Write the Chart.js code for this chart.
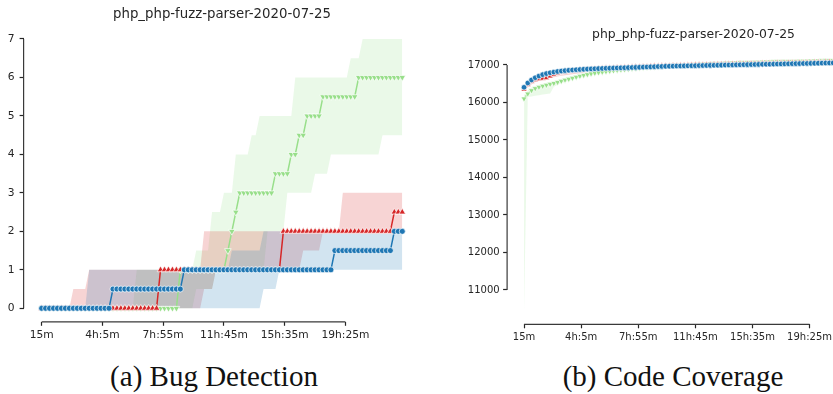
<!DOCTYPE html>
<html>
<head>
  <meta charset="utf-8">
  <title>php_php-fuzz-parser-2020-07-25</title>
  <script src="https://cdn.jsdelivr.net/npm/chart.js@4.4.0/dist/chart.umd.min.js"></script>
  <style>
    html, body {
      margin: 0;
      padding: 0;
      width: 833px;
      height: 394px;
      overflow: hidden;
      background: #fff;
    }
    #bugs { position: absolute; left: 0; top: 0; }
    #cov { position: absolute; left: 420px; top: 0; }
    .caption {
      position: absolute;
      top: 362px;
      font-family: 'Liberation Serif', serif;
      font-size: 29px;
      line-height: 29px;
      color: #111;
      white-space: nowrap;
      transform: translateX(-50%);
    }
  </style>
</head>
<body>
  <canvas id="bugs" width="425" height="345"></canvas>
  <canvas id="cov" width="470" height="345"></canvas>
  <div class="caption" style="left: 214px;">(a) Bug Detection</div>
  <div class="caption" style="left: 673px;">(b) Code Coverage</div>
  <script>
    var title = 'php_php-fuzz-parser-2020-07-25';

    // time axis (minutes since start, one sample every 15 min)
    var minutes = [15, 30, 45, 60, 75, 90, 105, 120, 135, 150,
      165, 180, 195, 210, 225, 240, 255, 270, 285, 300,
      315, 330, 345, 360, 375, 390, 405, 420, 435, 450,
      465, 480, 495, 510, 525, 540, 555, 570, 585, 600,
      615, 630, 645, 660, 675, 690, 705, 720, 735, 750,
      765, 780, 795, 810, 825, 840, 855, 870, 885, 900,
      915, 930, 945, 960, 975, 990, 1005, 1020, 1035, 1050,
      1065, 1080, 1095, 1110, 1125, 1140, 1155, 1170, 1185, 1200,
      1215, 1230, 1245, 1260, 1275, 1290, 1305, 1320, 1335, 1350,
      1365, 1380];
    var tickMinutes = [15, 245, 475, 705, 935, 1165];
    var tickLabels = ['15m', '4h:5m', '7h:55m', '11h:45m', '15h:35m', '19h:25m'];

    // (a) bugs found: mean and band per fuzzer
    var bugBlue = [0, 0, 0, 0, 0, 0, 0, 0, 0, 0,
      0, 0, 0, 0, 0, 0, 0, 0, 0.5, 0.5,
      0.5, 0.5, 0.5, 0.5, 0.5, 0.5, 0.5, 0.5, 0.5, 0.5,
      0.5, 0.5, 0.5, 0.5, 0.5, 0.5, 1, 1, 1, 1,
      1, 1, 1, 1, 1, 1, 1, 1, 1, 1,
      1, 1, 1, 1, 1, 1, 1, 1, 1, 1,
      1, 1, 1, 1, 1, 1, 1, 1, 1, 1,
      1, 1, 1, 1, 1.5, 1.5, 1.5, 1.5, 1.5, 1.5,
      1.5, 1.5, 1.5, 1.5, 1.5, 1.5, 1.5, 1.5, 1.5, 2,
      2, 2];
    var bugBlueLo = [0, 0, 0, 0, 0, 0, 0, 0, 0, 0,
      0, 0, 0, 0, 0, 0, 0, 0, 0, 0,
      0, 0, 0, 0, 0, 0, 0, 0, 0, 0,
      0, 0, 0, 0, 0, 0, 0, 0, 0, 0,
      0, 0, 0, 0, 0, 0, 0, 0, 0, 0,
      0, 0, 0, 0, 0, 0, 0.5, 0.5, 0.5, 0.5,
      1, 1, 1, 1, 1, 1, 1, 1, 1, 1,
      1, 1, 1, 1, 1, 1, 1, 1, 1, 1,
      1, 1, 1, 1, 1, 1, 1, 1, 1, 1,
      1, 1];
    var bugBlueHi = [0, 0, 0, 0, 0, 0, 0, 0, 0, 0,
      0, 0, 1, 1, 1, 1, 1, 1, 1, 1,
      1, 1, 1, 1, 1, 1, 1, 1, 1, 1,
      1, 1, 1, 1, 1, 1, 1, 1, 1, 1,
      1, 1, 1, 1, 1, 1, 1, 1, 1.5, 1.5,
      1.5, 1.5, 1.5, 1.5, 1.5, 1.5, 2, 2, 2, 2,
      2, 2, 2, 2, 2, 2, 2, 2, 2, 2,
      2, 2, 2, 2, 2, 2, 2, 2, 2, 2,
      2, 2, 2, 2, 2, 2, 2, 2, 2, 2,
      2, 2];

    var bugRed = [0, 0, 0, 0, 0, 0, 0, 0, 0, 0,
      0, 0, 0, 0, 0, 0, 0, 0, 0, 0,
      0, 0, 0, 0, 0, 0, 0, 0, 0, 0,
      1, 1, 1, 1, 1, 1, 1, 1, 1, 1,
      1, 1, 1, 1, 1, 1, 1, 1, 1, 1,
      1, 1, 1, 1, 1, 1, 1, 1, 1, 1,
      1, 2, 2, 2, 2, 2, 2, 2, 2, 2,
      2, 2, 2, 2, 2, 2, 2, 2, 2, 2,
      2, 2, 2, 2, 2, 2, 2, 2, 2, 2.5,
      2.5, 2.5];
    var bugRedLo = [0, 0, 0, 0, 0, 0, 0, 0, 0, 0,
      0, 0, 0, 0, 0, 0, 0, 0, 0, 0,
      0, 0, 0, 0, 0, 0, 0, 0, 0, 0,
      0, 0, 0, 0, 0, 0, 0, 0, 0, 0,
      0, 0.5, 0.5, 0.5, 1, 1, 1, 1, 1, 1,
      1, 1, 1, 1, 1, 1, 1, 1, 1, 1,
      1, 1, 1, 1, 1, 1, 1.5, 1.5, 1.5, 1.5,
      1.5, 2, 2, 2, 2, 2, 2, 2, 2, 2,
      2, 2, 2, 2, 2, 2, 2, 2, 2, 2,
      2, 2];
    var bugRedHi = [0, 0, 0, 0, 0, 0, 0, 0, 0.5, 0.5,
      0.5, 0.5, 1, 1, 1, 1, 1, 1, 1, 1,
      1, 1, 1, 1, 1, 1, 1, 1, 1, 1,
      1, 1, 1, 1, 1, 1, 1, 1, 1, 1,
      1, 2, 2, 2, 2, 2, 2, 2, 2, 2,
      2, 2, 2, 2, 2, 2, 2, 2, 2, 2,
      2, 2, 2, 2, 2, 2, 2, 2, 2, 2,
      2, 2, 2, 2, 2, 2, 3, 3, 3, 3,
      3, 3, 3, 3, 3, 3, 3, 3, 3, 3,
      3, 3];

    var bugGreen = [0, 0, 0, 0, 0, 0, 0, 0, 0, 0,
      0, 0, 0, 0, 0, 0, 0, 0, 0, 0,
      0, 0, 0, 0, 0, 0, 0, 0, 0, 0,
      0, 0, 0, 0, 0, 1, 1, 1, 1, 1,
      1, 1, 1, 1, 1, 1, 1, 1.5, 2, 2.5,
      3, 3, 3, 3, 3, 3, 3, 3, 3, 3.5,
      3.5, 3.5, 3.5, 4, 4, 4.5, 4.5, 5, 5, 5,
      5, 5.5, 5.5, 5.5, 5.5, 5.5, 5.5, 5.5, 5.5, 5.5,
      6, 6, 6, 6, 6, 6, 6, 6, 6, 6,
      6, 6];
    var bugGreenLo = [0, 0, 0, 0, 0, 0, 0, 0, 0, 0,
      0, 0, 0, 0, 0, 0, 0, 0, 0, 0,
      0, 0, 0, 0, 0, 0, 0, 0, 0, 0,
      0, 0, 0, 0, 0, 0, 0, 0, 0, 0.5,
      0.5, 0.5, 0.5, 0.5, 1, 1, 1, 1, 1, 1,
      1, 1, 1, 1, 1, 1, 1, 2, 2, 2,
      2, 2, 3, 3, 3, 3, 3, 3, 3, 3.5,
      3.5, 3.5, 3.5, 4, 4, 4, 4, 4, 4, 4,
      4, 4, 4, 4, 4, 4, 4.5, 4.5, 4.5, 4.5,
      4.5, 4.5];
    var bugGreenHi = [0, 0, 0, 0, 0, 0, 0, 0, 0, 0,
      0, 0, 0, 0, 0, 0, 0, 0, 0, 0,
      0, 0, 0, 0, 1, 1, 1, 1, 1, 1,
      1, 1, 1, 1, 1, 1, 1, 1, 1, 1.5,
      1.5, 1.5, 1.5, 2.5, 2.5, 2.5, 3, 3, 3, 4,
      4, 4, 4, 4.5, 4.5, 5, 5, 5, 5, 5,
      5, 5, 5, 5, 6, 6, 6, 6, 6, 6,
      6, 6, 6, 6, 6, 6, 6, 6, 6.5, 6.5,
      6.5, 7, 7, 7, 7, 7, 7, 7, 7, 7,
      7, 7];

    // (b) code coverage: mean and band per fuzzer
    var covBlue = [16405, 16520, 16600, 16660, 16705, 16742, 16770, 16792, 16810, 16826,
      16838, 16849, 16858, 16866, 16873, 16879, 16885, 16890, 16895, 16899,
      16903, 16907, 16911, 16914, 16917, 16920, 16923, 16926, 16929, 16932,
      16935, 16938, 16942, 16946, 16950, 16954, 16958, 16961, 16964, 16966,
      16968, 16971, 16973, 16975, 16977, 16979, 16981, 16983, 16985, 16987,
      16989, 16991, 16993, 16995, 16997, 16999, 17001, 17003, 17005, 17007,
      17009, 17011, 17013, 17015, 17017, 17019, 17021, 17023, 17025, 17027,
      17029, 17031, 17033, 17035, 17037, 17039, 17041, 17043, 17045, 17047,
      17049, 17051, 17053, 17055, 17057, 17059, 17060, 17061, 17062, 17063,
      17064, 17065];
    var covBlueLo = [16340, 16470, 16560, 16625, 16675, 16715, 16745, 16768, 16787, 16803,
      16816, 16828, 16838, 16847, 16855, 16862, 16868, 16874, 16879, 16884,
      16888, 16892, 16896, 16899, 16902, 16905, 16908, 16911, 16914, 16917,
      16920, 16923, 16927, 16931, 16935, 16939, 16943, 16946, 16949, 16951,
      16953, 16956, 16958, 16960, 16962, 16964, 16966, 16968, 16970, 16972,
      16974, 16976, 16978, 16980, 16982, 16984, 16986, 16988, 16990, 16992,
      16994, 16996, 16998, 17000, 17002, 17004, 17006, 17008, 17010, 17012,
      17014, 17016, 17018, 17020, 17022, 17024, 17026, 17028, 17030, 17032,
      17034, 17036, 17038, 17040, 17042, 17044, 17045, 17046, 17047, 17048,
      17049, 17050];
    var covBlueHi = [16470, 16570, 16640, 16695, 16735, 16770, 16795, 16815, 16832, 16848,
      16860, 16870, 16879, 16886, 16892, 16897, 16902, 16906, 16910, 16914,
      16918, 16922, 16926, 16929, 16932, 16935, 16938, 16941, 16944, 16947,
      16950, 16953, 16957, 16961, 16965, 16969, 16973, 16976, 16979, 16981,
      16983, 16986, 16988, 16990, 16992, 16994, 16996, 16998, 17000, 17002,
      17004, 17006, 17008, 17010, 17012, 17014, 17016, 17018, 17020, 17022,
      17024, 17026, 17028, 17030, 17032, 17034, 17036, 17038, 17040, 17042,
      17044, 17046, 17048, 17050, 17052, 17054, 17056, 17058, 17060, 17062,
      17064, 17066, 17068, 17070, 17072, 17074, 17075, 17076, 17077, 17078,
      17079, 17080];

    var covRed = [16350, 16470, 16560, 16600, 16625, 16640, 16655, 16700, 16745, 16780,
      16805, 16822, 16838, 16850, 16861, 16871, 16880, 16888, 16895, 16901,
      16907, 16912, 16917, 16922, 16926, 16930, 16934, 16938, 16942, 16946,
      16950, 16954, 16958, 16962, 16966, 16970, 16973, 16976, 16979, 16982,
      16985, 16988, 16991, 16994, 16997, 17000, 17003, 17006, 17009, 17012,
      17015, 17017, 17019, 17021, 17023, 17025, 17027, 17029, 17031, 17033,
      17035, 17037, 17039, 17041, 17043, 17045, 17047, 17049, 17051, 17053,
      17055, 17057, 17059, 17061, 17063, 17065, 17067, 17069, 17071, 17073,
      17075, 17077, 17079, 17081, 17083, 17084, 17085, 17086, 17087, 17088,
      17089, 17090];
    var covRedLo = [16300, 16400, 16480, 16540, 16580, 16610, 16630, 16650, 16670, 16690,
      16710, 16725, 16740, 16752, 16764, 16775, 16785, 16795, 16805, 16815,
      16825, 16835, 16845, 16855, 16865, 16873, 16881, 16888, 16895, 16902,
      16908, 16914, 16920, 16926, 16931, 16936, 16941, 16945, 16949, 16953,
      16957, 16961, 16964, 16967, 16970, 16973, 16976, 16979, 16982, 16985,
      16988, 16990, 16992, 16994, 16996, 16998, 17000, 17002, 17004, 17006,
      17008, 17010, 17012, 17014, 17016, 17018, 17020, 17022, 17024, 17026,
      17028, 17030, 17032, 17034, 17036, 17038, 17040, 17042, 17044, 17046,
      17048, 17050, 17052, 17054, 17056, 17057, 17058, 17059, 17060, 17061,
      17062, 17063];
    var covRedHi = [16400, 16540, 16630, 16670, 16690, 16705, 16720, 16760, 16800, 16830,
      16850, 16865, 16878, 16889, 16898, 16907, 16915, 16922, 16929, 16935,
      16941, 16946, 16951, 16956, 16960, 16964, 16968, 16972, 16976, 16980,
      16984, 16988, 16992, 16996, 17000, 17004, 17007, 17010, 17013, 17016,
      17019, 17022, 17025, 17028, 17031, 17034, 17037, 17040, 17043, 17046,
      17049, 17051, 17053, 17055, 17057, 17059, 17061, 17063, 17065, 17067,
      17069, 17071, 17073, 17075, 17077, 17079, 17081, 17083, 17085, 17087,
      17089, 17091, 17093, 17095, 17097, 17099, 17101, 17103, 17105, 17107,
      17109, 17111, 17113, 17115, 17117, 17118, 17119, 17120, 17121, 17122,
      17123, 17124];

    var covGreen = [16100, 16230, 16320, 16375, 16410, 16440, 16465, 16490, 16512, 16540,
      16570, 16600, 16625, 16650, 16678, 16703, 16728, 16748, 16768, 16784,
      16799, 16813, 16826, 16838, 16850, 16861, 16871, 16881, 16890, 16899,
      16908, 16916, 16924, 16932, 16940, 16948, 16955, 16962, 16969, 16976,
      16982, 16988, 16994, 17000, 17005, 17010, 17015, 17020, 17025, 17030,
      17034, 17038, 17042, 17046, 17050, 17054, 17058, 17061, 17064, 17067,
      17070, 17073, 17076, 17079, 17082, 17085, 17088, 17090, 17092, 17094,
      17096, 17098, 17100, 17102, 17104, 17106, 17108, 17110, 17112, 17114,
      17116, 17118, 17120, 17122, 17124, 17125, 17126, 17127, 17128, 17129,
      17130, 17131];
    var covGreenLo = [10420, 16150, 16160, 16180, 16195, 16210, 16225, 16240, 16420, 16470,
      16510, 16545, 16575, 16605, 16635, 16660, 16685, 16705, 16725, 16742,
      16758, 16772, 16786, 16799, 16812, 16824, 16835, 16846, 16856, 16866,
      16875, 16884, 16893, 16902, 16910, 16918, 16926, 16933, 16940, 16947,
      16954, 16960, 16966, 16972, 16978, 16983, 16988, 16993, 16998, 17003,
      17008, 17012, 17016, 17020, 17024, 17028, 17032, 17036, 17040, 17043,
      17046, 17049, 17052, 17055, 17058, 17061, 17064, 17066, 17068, 17070,
      17072, 17074, 17076, 17078, 17080, 17082, 17084, 17086, 17088, 17090,
      17092, 17094, 17096, 17098, 17100, 17101, 17102, 17103, 17104, 17105,
      17106, 17107];
    var covGreenHi = [16200, 16320, 16400, 16440, 16470, 16500, 16525, 16550, 16575, 16600,
      16625, 16650, 16672, 16695, 16718, 16740, 16762, 16782, 16800, 16816,
      16830, 16844, 16857, 16869, 16880, 16891, 16901, 16911, 16920, 16929,
      16938, 16946, 16954, 16962, 16970, 16977, 16984, 16991, 16998, 17004,
      17010, 17016, 17022, 17028, 17033, 17038, 17043, 17048, 17053, 17058,
      17062, 17066, 17070, 17074, 17078, 17082, 17086, 17089, 17092, 17095,
      17098, 17101, 17104, 17107, 17110, 17113, 17116, 17118, 17120, 17122,
      17124, 17126, 17128, 17130, 17132, 17134, 17136, 17138, 17140, 17142,
      17144, 17146, 17148, 17150, 17152, 17153, 17154, 17155, 17156, 17157,
      17158, 17159];

    var blue = '#1f77b4', red = '#d62728', green = '#98df8a';
    var ink = '#262626';
    var sans = "'DejaVu Sans', sans-serif";

    function pts(arr) {
      return minutes.map(function(m, i) { return { x: m, y: arr[i] }; });
    }

    function meanLine(arr, color, style, radius, rot, width) {
      return {
        data: pts(arr),
        borderColor: color,
        borderWidth: width,
        pointStyle: style,
        pointRadius: radius,
        pointRotation: rot,
        pointBackgroundColor: color,
        pointBorderColor: '#fff',
        pointBorderWidth: 0.7,
        fill: false
      };
    }

    function bandEdge(arr, fillColor) {
      return {
        data: pts(arr),
        borderColor: 'rgba(0,0,0,0)',
        borderWidth: 0,
        pointRadius: 0,
        fill: fillColor ? '+1' : false,
        backgroundColor: fillColor || 'rgba(0,0,0,0)'
      };
    }

    // trimmed spines, like sns.despine(trim=True)
    var spines = {
      id: 'spines',
      afterDraw: function(chart, args, opts) {
        var ctx = chart.ctx, x = chart.scales.x, y = chart.scales.y, area = chart.chartArea;
        ctx.save();
        ctx.strokeStyle = '#3a3a3a';
        ctx.lineWidth = 1.2;
        ctx.beginPath();
        ctx.moveTo(area.left, y.getPixelForValue(opts.yTicks[0]));
        ctx.lineTo(area.left, y.getPixelForValue(opts.yTicks[opts.yTicks.length - 1]));
        ctx.moveTo(x.getPixelForValue(tickMinutes[0]), area.bottom);
        ctx.lineTo(x.getPixelForValue(tickMinutes[tickMinutes.length - 1]), area.bottom);
        ctx.stroke();
        ctx.restore();
      }
    };

    function makeOptions(o) {
      return {
        responsive: false,
        animation: false,
        devicePixelRatio: 1,
        layout: { padding: { left: 0, top: 0, right: o.padRight, bottom: 0 } },
        elements: { line: { tension: 0 } },
        plugins: {
          legend: { display: false },
          tooltip: { enabled: false },
          title: {
            display: true,
            text: title,
            fullSize: false,
            color: ink,
            font: { family: sans, size: o.titleSize, weight: 'normal', lineHeight: 1.2 },
            padding: { top: o.titleTop, bottom: o.titleBottom }
          },
          spines: { yTicks: o.yTicks }
        },
        scales: {
          x: {
            type: 'linear',
            min: -53.25,
            max: 1448.25,
            afterBuildTicks: function(s) { s.ticks = tickMinutes.map(function(v) { return { value: v }; }); },
            afterFit: function(s) { s.height = o.xHeight; },
            ticks: {
              autoSkip: false,
              maxRotation: 0,
              padding: 3,
              color: ink,
              font: { family: sans, size: o.tickSize },
              callback: function(v) { return tickLabels[tickMinutes.indexOf(v)]; }
            },
            grid: { drawOnChartArea: false, tickLength: 4, tickColor: ink, tickWidth: 1.2 },
            border: { display: false }
          },
          y: {
            type: 'linear',
            min: o.yMin,
            max: o.yMax,
            afterBuildTicks: function(s) { s.ticks = o.yTicks.map(function(v) { return { value: v }; }); },
            afterFit: function(s) { s.width = o.yWidth; },
            ticks: {
              autoSkip: false,
              padding: o.yPad,
              color: ink,
              font: { family: sans, size: o.tickSize },
              callback: function(v) { return String(v); }
            },
            grid: { drawOnChartArea: false, tickLength: 4, tickColor: ink, tickWidth: 1.2 },
            border: { display: false }
          }
        }
      };
    }

    new Chart(document.getElementById('bugs').getContext('2d'), {
      type: 'line',
      data: {
        datasets: [
          meanLine(bugBlue, blue, 'circle', 3, 0, 1.5),
          meanLine(bugRed, red, 'triangle', 3.8, 0, 1.5),
          meanLine(bugGreen, green, 'triangle', 3.8, 180, 1.5),
          bandEdge(bugBlueHi, 'rgba(31,119,180,0.2)'),
          bandEdge(bugBlueLo),
          bandEdge(bugRedHi, 'rgba(214,39,40,0.2)'),
          bandEdge(bugRedLo),
          bandEdge(bugGreenHi, 'rgba(152,223,138,0.2)'),
          bandEdge(bugGreenLo)
        ]
      },
      options: makeOptions({
        padRight: 3.2, titleSize: 13.3, titleTop: 7, titleBottom: 2.5,
        xHeight: 23.2, yWidth: 23.6, yPad: 5, tickSize: 10.7,
        yMin: -0.351, yMax: 7.351, yTicks: [0, 1, 2, 3, 4, 5, 6, 7]
      }),
      plugins: [spines]
    });

    new Chart(document.getElementById('cov').getContext('2d'), {
      type: 'line',
      data: {
        datasets: [
          meanLine(covBlue, blue, 'circle', 2.8, 0, 1.4),
          meanLine(covRed, red, 'triangle', 3.5, 0, 1.4),
          meanLine(covGreen, green, 'triangle', 3.5, 180, 1.4),
          bandEdge(covBlueHi, 'rgba(31,119,180,0.2)'),
          bandEdge(covBlueLo),
          bandEdge(covRedHi, 'rgba(214,39,40,0.2)'),
          bandEdge(covRedLo),
          bandEdge(covGreenHi, 'rgba(152,223,138,0.2)'),
          bandEdge(covGreenLo)
        ]
      },
      options: makeOptions({
        padRight: 10.1, titleSize: 12.4, titleTop: 27.6, titleBottom: 4.3,
        xHeight: 20.7, yWidth: 87.1, yPad: 3.5, tickSize: 10,
        yMin: 10084, yMax: 17485, yTicks: [11000, 12000, 13000, 14000, 15000, 16000, 17000]
      }),
      plugins: [spines]
    });
  </script>
</body>
</html>
